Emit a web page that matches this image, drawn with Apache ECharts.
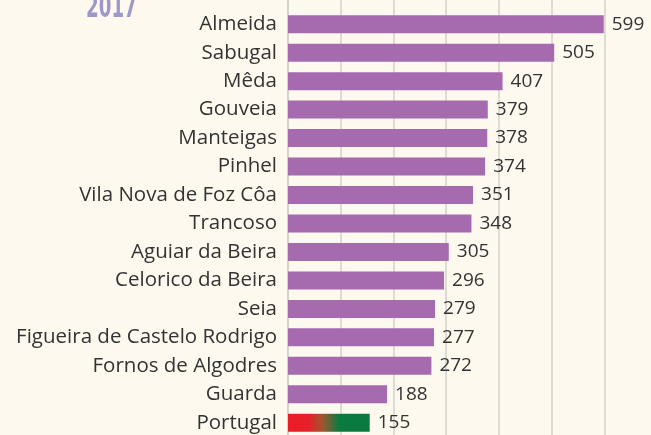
<!DOCTYPE html>
<html>
<head>
<meta charset="utf-8">
<script src="https://cdn.jsdelivr.net/npm/echarts@6/dist/echarts.min.js"></script>
<style>
  html, body { margin: 0; padding: 0; background: #fdf9ee; }
  #main { width: 651px; height: 435px; }
</style>
</head>
<body>
<div id="main"></div>
<script>
// concelhos (o primeiro vazio só serve para prolongar as linhas até ao topo)
var concelhos = ['', 'Almeida', 'Sabugal', 'Mêda', 'Gouveia', 'Manteigas', 'Pinhel',
  'Vila Nova de Foz Côa', 'Trancoso', 'Aguiar da Beira', 'Celorico da Beira', 'Seia',
  'Figueira de Castelo Rodrigo', 'Fornos de Algodres', 'Guarda', 'Portugal'];
var valores = ['-', 599, 505, 407, 379, 378, 374, 351, 348, 305, 296, 279, 277, 272, 188, 155];
var ano = '2017';

var myChart = echarts.init(document.getElementById('main'));

// barra de Portugal com as cores da bandeira
var corPortugal = new echarts.graphic.LinearGradient(0, 0, 1, 0, [
  { offset: 0, color: '#ec1c24' },
  { offset: 0.25, color: '#e8202a' },
  { offset: 0.42, color: '#a0552e' },
  { offset: 0.62, color: '#0b7a3e' },
  { offset: 1, color: '#0b7a3e' }
]);

var dados = valores.map(function (v, i) {
  if (concelhos[i] === 'Portugal') {
    return { value: v, itemStyle: { color: corPortugal } };
  }
  return v;
});

var option = {
  backgroundColor: '#fdf9ee',
  textStyle: { fontFamily: 'Open Sans' },
  // ano em letra condensada (não há fonte condensada, por isso escala-se)
  graphic: [{
    type: 'text',
    x: 86,
    y: 25,
    scaleX: 0.57,
    style: {
      text: ano,
      font: 'bold 32px "DejaVu Sans"',
      fill: '#9d98ca',
      textVerticalAlign: 'bottom'
    }
  }],
  grid: {
    left: 288,
    right: -6,
    top: -18.5,
    bottom: -2,
    containLabel: false,
    outerBoundsMode: 'none'
  },
  xAxis: {
    type: 'value',
    min: 0,
    max: 700,
    interval: 100,
    axisLabel: { show: false },
    axisTick: { show: false },
    axisLine: { show: false },
    splitLine: {
      show: true,
      lineStyle: { color: '#d2d0cb', width: 1.5 }
    }
  },
  yAxis: {
    type: 'category',
    inverse: true,
    data: concelhos,
    axisTick: { show: false },
    axisLine: { show: true, lineStyle: { color: '#d2d0cb', width: 1.5 } },
    axisLabel: {
      color: '#333',
      fontSize: 20.5,
      margin: 11
    }
  },
  series: [{
    type: 'bar',
    data: dados,
    barWidth: 18,
    itemStyle: { color: '#a66aaf' },
    label: {
      show: true,
      position: 'right',
      distance: 8,
      color: '#333',
      fontSize: 19
    },
    animation: false
  }]
};

myChart.setOption(option);
</script>
</body>
</html>
